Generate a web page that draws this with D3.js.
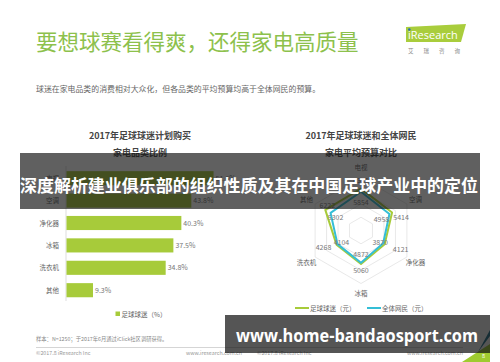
<!DOCTYPE html>
<html>
<head>
<meta charset="utf-8">
<script src="https://cdn.jsdelivr.net/npm/d3@7"></script>
<style>
  body { margin: 0; background: #fff; }
  svg { display: block; font-family: "Noto Sans CJK SC", "Noto Sans", sans-serif; }
</style>
</head>
<body>
<div id="chart"></div>
<script>
// data
var barCats = ["电视", "空调", "净化器", "冰箱", "洗衣机", "其他"];
var barVals = [51.6, 43.8, 40.3, 37.5, 34.8, 9.3];

var radarCats = ["电视", "空调", "净化器", "冰箱", "洗衣机", "其他"];
var fanBudget = [6315, 5414, 4121, 5060, 4268, 6222];
var netizenBudget = [5854, 4958, 3870, 4872, 4104, 5302];
var radarRings = [2000, 4000, 6000, 8000];

// label nudges for the radar values (px, not data)
var fanNudge = [[0, -8], [9, 5], [16, 5], [0, 6], [-13, 3], [2, -4]];
var netNudge = [[0, 11], [-8, 5], [-3, -1], [0, -8], [4, -2], [5, 5]];

var width = 500, height = 362;
var green = "#a7cb3a", blue = "#34bed6", grey = "#777";

var svg = d3.select("#chart").append("svg")
    .attr("width", width)
    .attr("height", height);

// header
svg.append("text")
    .attr("x", 36).attr("y", 50)
    .attr("fill", "#8dc14c")
    .style("font-size", "21.5px")
    .text("要想球赛看得爽，还得家电高质量");

svg.append("text")
    .attr("x", 36).attr("y", 92)
    .attr("fill", "#666")
    .style("font-size", "7.9px")
    .text("球迷在家电品类的消费相对大众化，但各品类的平均预算均高于全体网民的预算。");

// iResearch logo
svg.append("polygon")
    .attr("points", "406,27 466,24 461,42 406,42")
    .attr("fill", "#a9cd3c");
svg.append("text")
    .attr("x", 408).attr("y", 39)
    .attr("fill", "#fff")
    .style("font-family", "'Open Sans', sans-serif")
    .style("font-size", "11px")
    .text("iResearch");
svg.append("circle").attr("cx", 409.3).attr("cy", 29.5).attr("r", 1.3).attr("fill", "#2a6db5");
svg.append("text")
    .attr("x", 408).attr("y", 53)
    .attr("fill", "#888")
    .style("font-size", "5.5px")
    .style("letter-spacing", "10px")
    .text("艾瑞咨询");

// ---------- bar chart ----------
var chartTitle = function(x, lines) {
    lines.forEach(function(t, i) {
        svg.append("text")
            .attr("x", x).attr("y", 139 + i * 17)
            .attr("text-anchor", "middle")
            .attr("fill", "#444")
            .style("font-size", "9px")
            .style("font-weight", "bold")
            .text(t);
    });
};
chartTitle(140, ["2017年足球球迷计划购买", "家电品类比例"]);

var y = d3.scaleBand()
    .domain(barCats)
    .range([167, 301.4])
    .paddingInner(0.37)
    .paddingOuter(0.185);
var x = d3.scaleLinear().domain([0, 60]).range([66, 237]);

svg.append("line")
    .attr("x1", 66).attr("x2", 66)
    .attr("y1", 166).attr("y2", 301)
    .attr("stroke", "#ddd");

var bars = barCats.map(function(c, i) { return { c: c, v: barVals[i] }; });

svg.selectAll(".bar")
    .data(bars)
    .enter().append("rect")
    .attr("class", "bar")
    .attr("x", x(0) + 0.5)
    .attr("y", d => y(d.c))
    .attr("width", d => x(d.v) - x(0))
    .attr("height", y.bandwidth())
    .attr("fill", green);

svg.selectAll(".cat")
    .data(bars)
    .enter().append("text")
    .attr("x", 59)
    .attr("y", d => y(d.c) + y.bandwidth() / 2 + 2.5)
    .attr("text-anchor", "end")
    .attr("fill", "#666")
    .style("font-size", "6.5px")
    .text(d => d.c);

svg.selectAll(".val")
    .data(bars)
    .enter().append("text")
    .attr("x", d => x(d.v) + 2.5)
    .attr("y", d => y(d.c) + y.bandwidth() / 2 + 2.5)
    .attr("fill", grey)
    .style("font-size", "7px")
    .text(d => d.v.toFixed(1) + "%");

svg.append("rect").attr("x", 115.5).attr("y", 311.5).attr("width", 4.5).attr("height", 4.5).attr("fill", green);
svg.append("text")
    .attr("x", 121.5).attr("y", 316.5)
    .attr("fill", "#666")
    .style("font-size", "6.5px")
    .text("足球球迷（%）");

// ---------- radar chart ----------
chartTitle(361, ["2017年足球球迷和全体网民", "家电平均预算对比"]);

var cx = 361, cy = 230.5;
var r = d3.scaleLinear().domain([0, 8000]).range([0, 53]);
var angle = d3.scalePoint().domain(d3.range(radarCats.length)).range([0, 2 * Math.PI * 5 / 6]);
var pt = function(i, rad) {
    var a = angle(i);
    return [cx + rad * Math.sin(a), cy - rad * Math.cos(a)];
};

radarRings.forEach(function(v) {
    svg.append("polygon")
        .attr("points", radarCats.map((c, i) => pt(i, r(v)).join(",")).join(" "))
        .attr("fill", "none")
        .attr("stroke", "#e2e2e2")
        .attr("stroke-width", 0.8);
});

var drawSeries = function(vals, color, nudge) {
    svg.append("polygon")
        .attr("points", vals.map((v, i) => pt(i, r(v)).join(",")).join(" "))
        .attr("fill", "none")
        .attr("stroke", color)
        .attr("stroke-width", 2)
        .attr("stroke-linejoin", "round");
    svg.selectAll(null)
        .data(vals)
        .enter().append("text")
        .attr("x", (v, i) => pt(i, r(v))[0] + nudge[i][0])
        .attr("y", (v, i) => pt(i, r(v))[1] + nudge[i][1] + 2.5)
        .attr("text-anchor", "middle")
        .attr("fill", grey)
        .style("font-size", "7px")
        .text(v => v);
};
drawSeries(fanBudget, green, fanNudge);
drawSeries(netizenBudget, blue, netNudge);

radarCats.forEach(function(c, i) {
    var p = pt(i, 63);
    svg.append("text")
        .attr("x", p[0]).attr("y", p[1] + 2.5)
        .attr("text-anchor", "middle")
        .attr("fill", "#666")
        .style("font-size", "6.5px")
        .text(c);
});

// radar legend
[[295, green, "足球球迷（元）"], [367, blue, "全体网民（元）"]].forEach(function(l) {
    svg.append("line")
        .attr("x1", l[0]).attr("x2", l[0] + 14)
        .attr("y1", 308).attr("y2", 308)
        .attr("stroke", l[1]).attr("stroke-width", 2);
    svg.append("text")
        .attr("x", l[0] + 15).attr("y", 310.5)
        .attr("fill", "#666")
        .style("font-size", "6.5px")
        .text(l[2]);
});

// footer
svg.append("text")
    .attr("x", 36).attr("y", 341)
    .attr("fill", "#888")
    .style("font-size", "5.3px")
    .text("样本：N=1250；于2017年6月通过iClick社区调研获得。");
svg.append("line")
    .attr("x1", 36).attr("x2", 463)
    .attr("y1", 347.5).attr("y2", 347.5)
    .attr("stroke", "#d5d5d5").attr("stroke-width", 1.2);
[[36, "©2017.8 iResearch Inc"], [186, "www.iresearch.com.cn"],
 [257, "©2017.8 iResearch Inc"], [407, "www.iresearch.com.cn"]].forEach(function(f) {
    svg.append("text")
        .attr("x", f[0]).attr("y", 355)
        .attr("fill", "#999")
        .style("font-size", "5.3px")
        .text(f[1]);
});
svg.append("polygon").attr("points", "462,362 490,344 490,362").attr("fill", "#9fcb2f");
svg.append("polygon").attr("points", "478,352 490,336 490,330").attr("fill", "#1f6f8a");
svg.append("text")
    .attr("x", 482).attr("y", 358)
    .attr("fill", "#fff")
    .style("font-size", "5.5px")
    .text("8");

// overlays
svg.append("rect")
    .attr("x", 20).attr("y", 153)
    .attr("width", 460).attr("height", 56)
    .attr("fill", "rgba(20,20,20,0.68)");
svg.append("text")
    .attr("x", 249).attr("y", 192)
    .attr("text-anchor", "middle")
    .attr("fill", "#fff")
    .style("font-size", "17px")
    .style("font-weight", "bold")
    .attr("textLength", 458)
    .attr("lengthAdjust", "spacingAndGlyphs")
    .text("深度解析建业俱乐部的组织性质及其在中国足球产业中的定位");

svg.append("rect")
    .attr("x", 225).attr("y", 315)
    .attr("width", 265).attr("height", 38)
    .attr("fill", "rgba(20,20,20,0.72)");
svg.append("text")
    .attr("x", 236).attr("y", 342)
    .attr("fill", "#fff")
    .style("font-family", "'Open Sans', 'Noto Sans', sans-serif")
    .style("font-size", "18px")
    .style("font-weight", "bold")
    .attr("textLength", 242)
    .attr("lengthAdjust", "spacingAndGlyphs")
    .text("www.home-bandaosport.com");
</script>
</body>
</html>
